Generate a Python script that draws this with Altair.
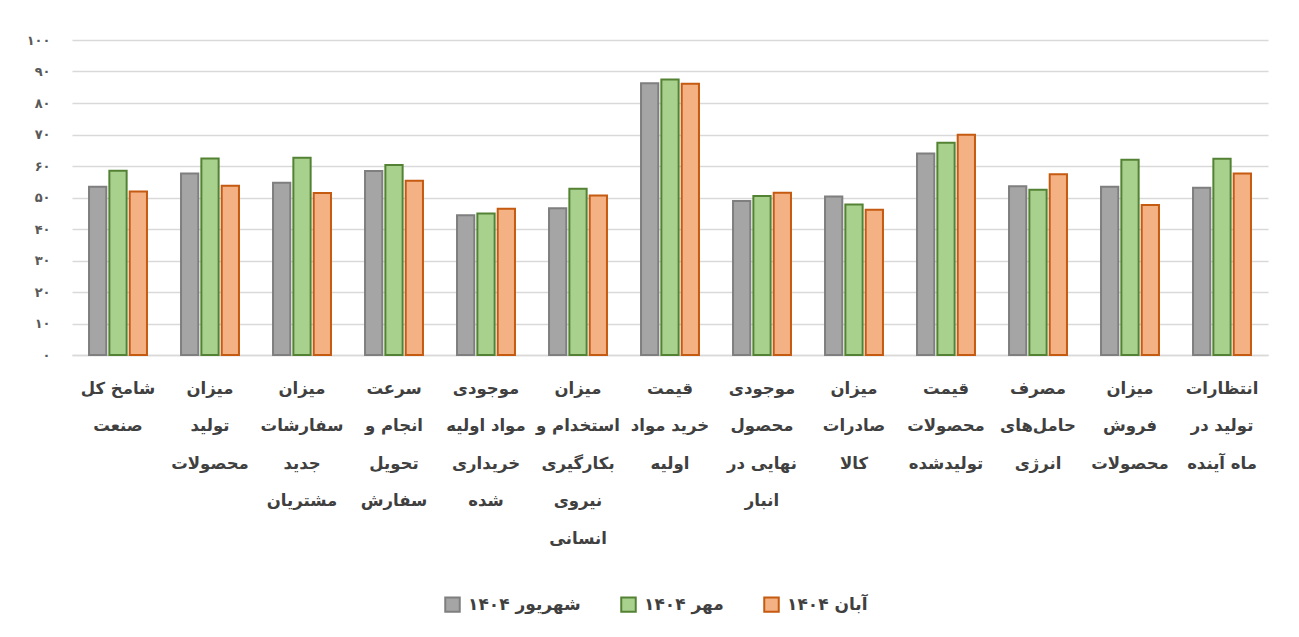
import altair as alt
import pandas as pd

categories = [
    "شامخ کل|صنعت",
    "میزان|تولید|محصولات",
    "میزان|سفارشات|جدید|مشتریان",
    "سرعت|انجام و|تحویل|سفارش",
    "موجودی|مواد اولیه|خریداری|شده",
    "میزان|استخدام و|بکارگیری|نیروی|انسانی",
    "قیمت|خرید مواد|اولیه",
    "موجودی|محصول|نهایی در|انبار",
    "میزان|صادرات|کالا",
    "قیمت|محصولات|تولیدشده",
    "مصرف|حامل‌های|انرژی",
    "میزان|فروش|محصولات",
    "انتظارات|تولید در|ماه آینده",
]
series = ["شهریور ۱۴۰۴", "مهر ۱۴۰۴", "آبان ۱۴۰۴"]
shahrivar = [53.4, 57.6, 54.7, 58.4, 44.4, 46.6, 86.3, 48.9, 50.3, 64.0, 53.6, 53.4, 53.1]
mehr = [58.5, 62.4, 62.6, 60.3, 44.9, 52.8, 87.5, 50.5, 47.8, 67.4, 52.5, 62.0, 62.3]
aban = [51.9, 53.7, 51.4, 55.3, 46.4, 50.6, 86.1, 51.5, 46.1, 69.9, 57.4, 47.6, 57.6]
y_tick_labels = ["۰", "۱۰", "۲۰", "۳۰", "۴۰", "۵۰", "۶۰", "۷۰", "۸۰", "۹۰", "۱۰۰"]

fills = ["#A5A5A5", "#A9D18E", "#F4B183"]
strokes = ["#7F7F7F", "#548235", "#C55A11"]

rows = []
for s, vals in zip(series, [shahrivar, mehr, aban]):
    for c, v in zip(categories, vals):
        rows.append({"cat": c, "series": s, "value": v})
df = pd.DataFrame(rows)

font = "DejaVu Sans"
ylabel_expr = "[" + ",".join(f"'{t}'" for t in y_tick_labels) + "][round(datum.value/10)]"

legend_cfg = alt.Legend(
    title=None, orient="none", direction="horizontal",
    legendX=372, legendY=556,
    symbolType="square", symbolSize=210, symbolStrokeWidth=2,
    labelFont=font, labelFontSize=17, labelFontWeight="bold", labelColor="#404040",
    columnPadding=36, labelOffset=7,
)

chart = alt.Chart(df).mark_bar(strokeWidth=2).encode(
    x=alt.X("cat:N", sort=categories, title=None,
            scale=alt.Scale(paddingInner=0.37, paddingOuter=0.185),
            axis=alt.Axis(labelExpr="split(datum.label, '|')", labelAngle=0,
                          labelFont=font, labelFontSize=16.5, labelFontWeight="bold",
                          labelColor="#404040", labelLineHeight=37.5,
                          labelBaseline="top", labelPadding=25, ticks=False,
                          grid=False,
                          domainColor="#D9D9D9", domainWidth=1.5,
                          labelOverlap=False, labelLimit=300)),
    xOffset=alt.XOffset("series:N", sort=series,
                        scale=alt.Scale(paddingInner=0.15, paddingOuter=0)),
    y=alt.Y("value:Q", title=None,
            scale=alt.Scale(domain=[0, 100]),
            axis=alt.Axis(values=list(range(0, 101, 10)), labelExpr=ylabel_expr,
                          labelFont=font, labelFontSize=13, labelFontWeight="bold",
                          labelColor="#595959", labelPadding=22, ticks=False,
                          domain=False, gridColor="#D9D9D9", gridWidth=1.5)),
    color=alt.Color("series:N", sort=series,
                    scale=alt.Scale(domain=series, range=fills), legend=legend_cfg),
    stroke=alt.Stroke("series:N", sort=series,
                      scale=alt.Scale(domain=series, range=strokes), legend=legend_cfg),
).properties(
    width=1196, height=315,
    autosize=alt.AutoSizeParams(type="none"),
    padding={"left": 64, "top": 32, "right": 20, "bottom": 270},
    background="white",
).configure_view(strokeWidth=0, stroke="transparent")

chart.save("out.html", embed_options={"renderer": "svg", "actions": False})
